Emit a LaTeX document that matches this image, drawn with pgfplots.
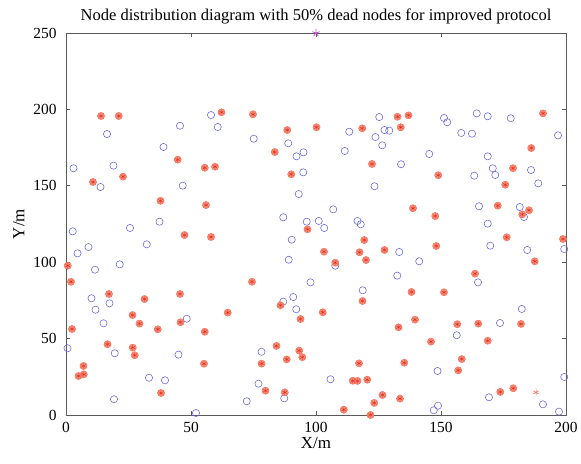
\documentclass[border=0pt]{standalone}
\usepackage{fontspec}
\setmainfont{Liberation Serif}
\usepackage{pgfplots}
\pgfplotsset{compat=1.18}
\definecolor{alive}{RGB}{100,100,220}
\definecolor{deadfill}{RGB}{252,140,118}
\definecolor{deaddraw}{RGB}{245,100,80}
\definecolor{deadstar}{RGB}{215,40,25}
\definecolor{sinkc}{RGB}{190,80,200}
\definecolor{axgray}{RGB}{90,90,90}
\begin{document}
\begin{tikzpicture}
\begin{axis}[
  scale only axis,
  width=500bp, height=382bp,
  xmin=0, xmax=200, ymin=0, ymax=250,
  xtick={0,50,...,200}, ytick={0,50,...,250},
  tick align=inside,
  major tick length=4bp,
  axis line style={axgray, line width=0.8pt},
  tick style={axgray, line width=0.6pt},
  ticklabel style={font=\fontsize{15.5}{16}\selectfont},
  /pgf/number format/assume math mode=true,
  xticklabel style={yshift=-4bp},
  yticklabel style={xshift=-6bp},
  title={Node distribution diagram with 50\% dead nodes for improved protocol},
  title style={font=\fontsize{16.6}{18}\selectfont, yshift=-1bp},
  xlabel={X/m}, ylabel={Y/m},
  xlabel style={yshift=2bp},
  ylabel style={yshift=2bp},
  label style={font=\fontsize{17}{18}\selectfont},
  clip=false,
]
\addplot[only marks, mark=o, mark size=3.6bp, mark options={alive, line width=0.55pt}] table {
16.4 183.9
45.6 189.3
39.0 175.4
58.0 196.3
60.7 188.5
75.1 180.8
88.9 177.8
92.2 169.3
95.0 171.9
113.3 185.4
125.3 195.0
127.4 186.5
129.3 186.1
123.8 181.9
126.5 176.5
111.5 172.8
145.3 170.8
151.2 194.4
152.5 191.6
158.1 184.6
162.4 184.1
164.3 197.4
168.7 195.5
177.9 194.2
196.8 183.0
168.7 169.3
3.0 161.5
19.0 163.2
13.8 149.2
46.7 150.1
2.7 120.2
25.6 122.4
37.4 126.5
9.0 109.9
4.6 105.8
32.3 111.7
11.6 95.1
21.5 98.6
94.9 158.8
93.1 144.6
86.9 129.4
96.3 126.5
90.3 114.7
89.1 101.6
97.8 86.8
134.0 164.1
123.4 149.7
106.9 134.6
101.1 127.0
103.3 122.4
116.6 127.0
117.9 124.8
133.3 106.7
107.7 97.7
141.3 100.6
132.5 91.2
170.7 161.5
163.3 156.6
171.7 157.1
186.0 160.3
188.9 151.6
165.2 136.6
181.5 136.1
183.2 129.6
168.7 125.2
199.3 108.6
169.7 110.8
184.5 108.0
164.8 86.8
10.2 76.4
11.8 68.9
17.4 73.1
15.0 60.0
48.3 63.0
0.6 43.7
19.5 40.4
45.0 39.5
33.2 24.4
39.6 22.7
19.2 10.3
86.9 74.2
90.9 77.2
92.1 69.2
78.2 41.4
77.0 20.5
87.3 10.9
72.3 9.0
52.0 1.3
118.7 81.6
105.8 23.4
148.6 28.8
148.8 6.1
147.1 3.1
182.3 69.4
173.6 60.2
156.3 52.2
199.3 24.9
169.2 11.6
190.8 7.0
197.2 2.2
};
\pgfplotstableread{
x y
14.0 195.7
21.1 195.7
44.7 167.1
62.2 198.1
74.8 196.8
88.5 186.5
100.2 188.3
83.5 172.1
118.5 187.6
132.6 195.2
137.0 196.1
133.9 188.3
190.8 197.4
186.1 174.7
10.8 152.5
22.8 156.0
37.8 140.2
47.4 117.8
0.7 97.7
2.0 87.2
55.5 161.8
59.6 162.5
90.1 157.5
56.0 137.4
96.6 121.5
58.0 116.5
74.4 87.2
122.4 164.3
148.9 156.9
138.8 135.3
147.7 130.2
119.3 114.5
103.2 106.9
117.4 106.5
127.4 108.0
148.1 110.6
120.0 101.4
107.7 99.7
178.8 161.5
175.7 150.7
172.7 137.0
185.2 134.0
182.5 131.3
176.3 116.3
198.8 115.2
187.5 100.6
163.6 92.5
17.2 79.2
31.4 75.9
45.6 79.2
26.6 65.4
29.4 59.8
45.8 60.7
36.7 56.1
2.4 56.3
16.6 46.3
26.7 44.1
27.5 39.1
7.0 32.1
7.1 26.6
5.0 25.5
38.0 14.4
85.8 71.8
93.8 62.8
64.7 67.0
55.5 54.5
84.2 45.2
93.3 42.1
94.5 37.8
88.3 36.4
55.2 33.6
78.2 33.6
79.8 15.9
87.5 14.8
118.6 74.6
138.2 80.5
151.2 80.3
102.7 67.2
139.6 62.4
133.0 57.4
146.0 48.0
117.2 33.8
135.3 34.2
114.7 22.4
116.6 22.3
120.5 23.1
126.6 13.1
123.3 7.9
133.6 10.7
111.1 3.5
121.8 0.0
156.5 59.4
164.9 59.8
182.0 59.6
168.7 48.6
158.3 36.6
156.9 29.2
173.7 15.1
178.9 17.5
}\deadtable
\addplot[only marks, mark=*, mark size=3.6bp, mark options={draw=deaddraw, fill=deadfill, line width=0.4pt}] table {\deadtable};
\addplot[only marks, mark=asterisk, mark size=2.6bp, mark options={deadstar, line width=0.35pt}] table {\deadtable};
\addplot[only marks, mark=asterisk, mark size=3.2bp, mark options={deaddraw, line width=0.5pt}] coordinates {(188.0,14.8)};
\addplot[only marks, mark=star, mark size=4bp, mark options={sinkc, line width=0.7pt}] coordinates {(100,250)};
\coordinate (sw) at (rel axis cs:0,0);
\coordinate (ne) at (rel axis cs:1,1);
\end{axis}
\useasboundingbox ([xshift=-66bp,yshift=-49bp]sw) rectangle ([xshift=15bp,yshift=33bp]ne);
\end{tikzpicture}
\end{document}
